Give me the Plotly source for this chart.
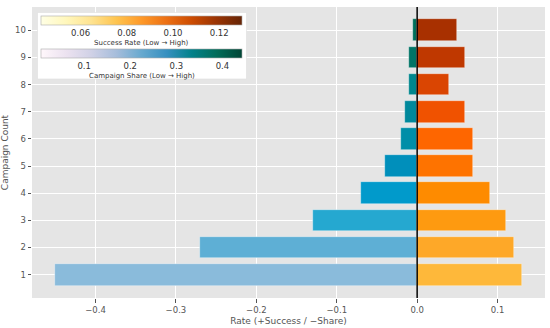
import plotly.graph_objects as go

campaign_count = [1, 2, 3, 4, 5, 6, 7, 8, 9, 10]
success_rate = [0.13, 0.12, 0.11, 0.09, 0.07, 0.07, 0.06, 0.04, 0.06, 0.05]
campaign_share = [0.45, 0.27, 0.13, 0.07, 0.04, 0.02, 0.015, 0.01, 0.01, 0.005]
success_colors = ["#feb83a", "#fea828", "#fe9a10", "#fe8b00", "#fe7300", "#fe6600",
                  "#f05200", "#da4502", "#bf3800", "#a83000"]
share_colors = ["#8abbdb", "#5eafd5", "#25a8d0", "#019acb", "#008fbb", "#008ea8",
                "#00889b", "#00868d", "#007466", "#006f5a"]
success_ticks = [0.06, 0.08, 0.10, 0.12]
share_ticks = [0.1, 0.2, 0.3, 0.4]
success_range = (0.043, 0.130)
share_range = (0.007, 0.443)
x_ticks = [-0.4, -0.3, -0.2, -0.1, 0.0, 0.1]

FONT = "DejaVu Sans"
W, H = 550, 328
L, R, T, B = 32, 5, 7, 30
pw, ph = W - L - R, H - T - B


def px_x(p):
    return (p - L) / pw


def px_y(p):
    return (H - B - p) / ph


fig = go.Figure()
fig.add_trace(go.Bar(
    y=campaign_count, x=[-v for v in campaign_share], orientation="h", width=0.8,
    marker=dict(color=share_colors, line=dict(color="rgba(255,255,255,0.6)", width=0.6)),
    showlegend=False, hoverinfo="skip"))
fig.add_trace(go.Bar(
    y=campaign_count, x=success_rate, orientation="h", width=0.8,
    marker=dict(color=success_colors, line=dict(color="rgba(255,255,255,0.6)", width=0.6)),
    showlegend=False, hoverinfo="skip"))

cx = px_x((41.3 + 242.3) / 2)
for rng, scale, ticks, fmt, ytop in [
    (success_range, "YlOrBr", success_ticks, ".2f", 15.7),
    (share_range, "PuBuGn", share_ticks, ".1f", 48.7),
]:
    fig.add_trace(go.Scatter(
        x=[0], y=[5], mode="markers", showlegend=False, hoverinfo="skip",
        marker=dict(size=0.1, opacity=0, color=[rng[0]], cmin=rng[0], cmax=rng[1],
                    colorscale=scale, showscale=True,
                    colorbar=dict(orientation="h", thickness=9, thicknessmode="pixels",
                                  len=201, lenmode="pixels", x=cx, xanchor="center",
                                  y=px_y(ytop), yanchor="top", ypad=0, xpad=0,
                                  outlinewidth=0.6, outlinecolor="#aaaaaa",
                                  ticks="", tickvals=ticks, tickformat=fmt,
                                  tickfont=dict(family=FONT, size=8.5, color="#333333"),
                                  bgcolor="rgba(0,0,0,0)"))))

fig.add_shape(type="rect", xref="paper", yref="paper",
              x0=px_x(37.5), x1=px_x(246.5), y0=px_y(79), y1=px_y(12.5),
              fillcolor="white", line=dict(color="#dddddd", width=0.6), layer="above")
fig.add_shape(type="line", xref="x", yref="paper", x0=0, x1=0, y0=0, y1=1,
              line=dict(color="black", width=1.5), layer="above")

fig.add_annotation(text="Success Rate (Low → High)", xref="paper", yref="paper",
                   x=cx, y=px_y(43.3), xanchor="center", yanchor="middle", showarrow=False,
                   font=dict(family=FONT, size=7, color="#333333"))
fig.add_annotation(text="Campaign Share (Low → High)", xref="paper", yref="paper",
                   x=cx, y=px_y(75.7), xanchor="center", yanchor="middle", showarrow=False,
                   font=dict(family=FONT, size=7, color="#333333"))

fig.update_layout(
    width=W, height=H, margin=dict(l=L, r=R, t=T, b=B, autoexpand=False),
    paper_bgcolor="white", plot_bgcolor="#e5e5e5", barmode="overlay", bargap=0,
    font=dict(family=FONT, color="#555555"),
    xaxis=dict(range=[-0.479, 0.159], tickvals=x_ticks, tickformat=".1f", automargin=False,
               showgrid=True, gridcolor="white", gridwidth=1, zeroline=False,
               ticks="outside", ticklen=3.5, tickcolor="#555555",
               tickfont=dict(family=FONT, size=8.5, color="#555555"),
               title=dict(text="Rate (+Success / −Share)", standoff=3,
                          font=dict(family=FONT, size=9, color="#555555"))),
    yaxis=dict(range=[0.14, 10.86], tickvals=campaign_count, automargin=False,
               showgrid=True, gridcolor="white", gridwidth=1, zeroline=False,
               ticks="outside", ticklen=3.5, tickcolor="#555555",
               tickfont=dict(family=FONT, size=8.5, color="#555555"),
               title=dict(text="Campaign Count", standoff=4,
                          font=dict(family=FONT, size=9, color="#555555"))),
)
fig.write_html("out.html", config={"displayModeBar": False},
               post_script="document.body.style.margin='0';document.body.style.overflow='hidden';")
